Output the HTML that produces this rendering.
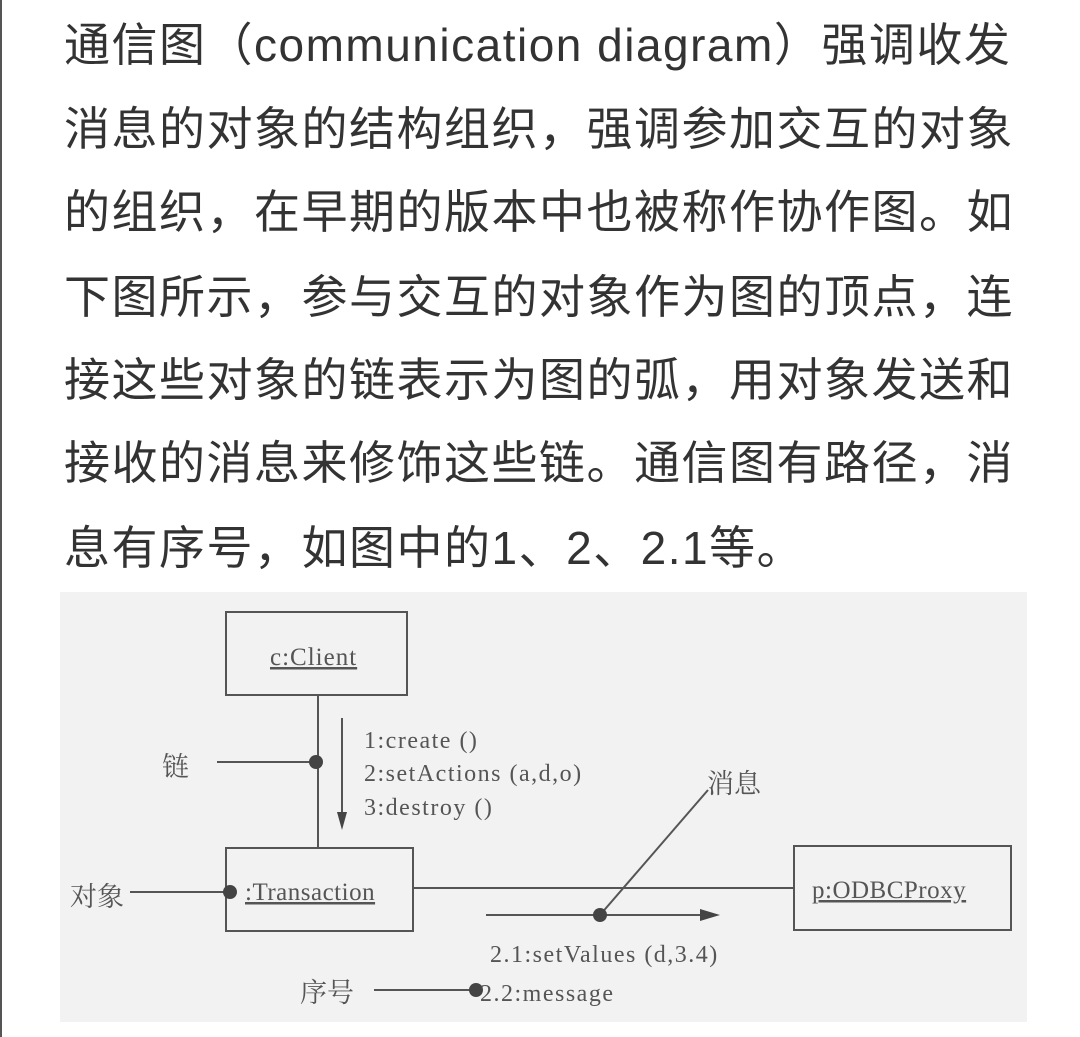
<!DOCTYPE html>
<html><head><meta charset="utf-8"><style>
body{margin:0;width:1080px;height:1037px;background:#fff;position:relative;overflow:hidden;border-left:2px solid #555;box-sizing:border-box}
.l{position:absolute;left:62px;font-family:"Liberation Sans","Noto Sans CJK SC",sans-serif;font-size:46px;color:#333;white-space:nowrap;line-height:60px;letter-spacing:1.5px}
svg{position:absolute;left:0;top:0}
</style></head><body>
<div class="l" style="top:15px">通信图（communication diagram）强调收发</div>
<div class="l" style="top:99px">消息的对象的结构组织，强调参加交互的对象</div>
<div class="l" style="top:182px">的组织，在早期的版本中也被称作协作图。如</div>
<div class="l" style="top:267px">下图所示，参与交互的对象作为图的顶点，连</div>
<div class="l" style="top:350px">接这些对象的链表示为图的弧，用对象发送和</div>
<div class="l" style="top:433px">接收的消息来修饰这些链。通信图有路径，消</div>
<div class="l" style="top:518px">息有序号，如图中的1、2、2.1等。</div>
<svg width="1080" height="1037" viewBox="0 0 1080 1037" font-family="Liberation Serif, Noto Serif CJK SC, serif" fill="#444">
<rect x="58" y="592" width="967" height="430" fill="#f2f2f2"/>
<g stroke="#555" stroke-width="2" fill="none">
<rect x="224" y="612" width="181" height="83"/>
<rect x="224" y="848" width="187" height="83"/>
<rect x="792" y="846" width="217" height="84"/>
<line x1="316" y1="695" x2="316" y2="848"/>
<line x1="340" y1="718" x2="340" y2="815"/>
<line x1="215" y1="762" x2="316" y2="762"/>
<line x1="128" y1="892" x2="228" y2="892"/>
<line x1="411" y1="888" x2="792" y2="888"/>
<line x1="484" y1="915" x2="700" y2="915"/>
<line x1="598" y1="915" x2="706" y2="790"/>
<line x1="372" y1="990" x2="474" y2="990"/>
</g>
<polygon points="335,812 345,812 340,830" fill="#444"/>
<polygon points="698,909 698,921 718,915" fill="#444"/>
<circle cx="314" cy="762" r="7"/><circle cx="228" cy="892" r="7"/><circle cx="598" cy="915" r="7"/><circle cx="474" cy="990" r="7"/>
<g fill="#555">
<text x="268" y="665" font-size="25" letter-spacing="1" text-decoration="underline">c:Client</text>
<text x="243" y="900" font-size="25" letter-spacing="0.5" text-decoration="underline">:Transaction</text>
<text x="810" y="898" font-size="25" letter-spacing="0.5" text-decoration="underline">p:ODBCProxy</text>
<g font-size="24" letter-spacing="1.5">
<text x="362" y="748">1:create ()</text>
<text x="362" y="781">2:setActions (a,d,o)</text>
<text x="362" y="815">3:destroy ()</text>
<text x="488" y="962">2.1:setValues (d,3.4)</text>
<text x="478" y="1001">2.2:message</text>
</g>
<g font-size="27">
<text x="160" y="776">链</text>
<text x="68" y="906">对象</text>
<text x="705" y="793">消息</text>
<text x="298" y="1002">序号</text>
</g>
</g>
</svg>
</body></html>
